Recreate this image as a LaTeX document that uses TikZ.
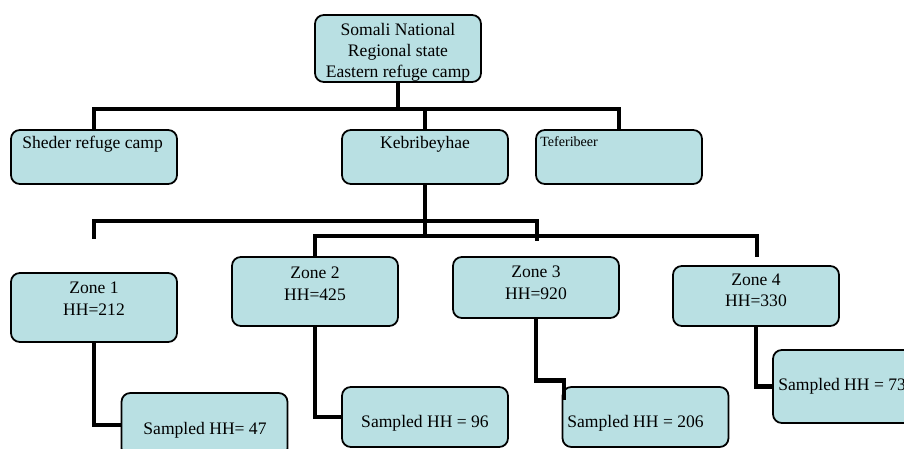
\documentclass[tikz,border=0pt]{standalone}
\usepackage{fontspec}
\setmainfont{Liberation Serif}
\usetikzlibrary{positioning}
\definecolor{cellblue}{RGB}{185,224,227}
\tikzset{
	cell/.style={draw, line width=1pt, rounded corners=5pt, fill=cellblue, inner sep=0pt, minimum width=3.32cm},
	txt/.style={font=\fontsize{10}{12}\selectfont, align=center, inner sep=0pt},
	link/.style={line width=2.8pt, line join=miter}
}

\begin{document}
\begin{tikzpicture}[x=0.02cm, y=-0.02cm]
	\useasboundingbox (0,0) rectangle (904,449);
	\clip (0,0) rectangle (904,449);
	% boxes
	\node[cell, minimum height=1.34cm] (top) at (398,48.5) {};
	\node[cell, minimum height=1.08cm] (sheder) at (94,157) {};
	\node[cell, minimum height=1.08cm] (keb) at (425,157) {};
	\node[cell, minimum height=1.08cm] (tef) at (619,157) {};
	\node[cell, minimum height=1.38cm] (z1) at (94,307.5) {};
	\node[cell, minimum height=1.38cm] (z2) at (315,291.5) {};
	\node[cell, minimum height=1.22cm] (z3) at (536,287.5) {};
	\node[cell, minimum height=1.2cm] (z4) at (756,296) {};
	\node[cell, minimum height=1.28cm] (s1) at (204.5,425) {};
	\node[cell, minimum height=1.2cm] (s2) at (425,417) {};
	\node[cell, minimum height=1.2cm] (s3) at (645.5,417) {};
	\node[cell, minimum height=1.46cm] (s4) at (856,386.5) {};
	% texts
	\node[txt, anchor=north] (ttop) at (398,23) {Somali National\\Regional state\\Eastern refuge camp};
	\node[txt, anchor=base west] (tsheder) at (22,149) {Sheder refuge camp};
	\node[txt, anchor=base] (tkeb) at (425,149) {Kebribeyhae};
	\node[txt, anchor=base west, font=\fontsize{8}{10}\selectfont] (ttef) at (540,147) {Teferibeer};
	\node[txt, anchor=north] (tz1) at (94,282) {Zone 1\\HH=212};
	\node[txt, anchor=north] (tz2) at (315,267) {Zone 2\\HH=425};
	\node[txt, anchor=north] (tz3) at (536,266) {Zone 3\\HH=920};
	\node[txt, anchor=north] (tz4) at (756,274) {Zone 4\\HH=330};
	\node[txt, anchor=base] (ts1) at (205,435) {Sampled HH= 47};
	\node[txt, anchor=base] (ts2) at (425,428) {Sampled HH = 96};
	\node[txt, anchor=base west] (ts3) at (567,428) {Sampled HH = 206};
	\node[txt, anchor=base west] (ts4) at (778,391) {Sampled HH = 73};
	% connectors
	\coordinate (j1) at (398,109);
	\coordinate (busA) at (425,221);
	\coordinate (busB) at (425,236);
	\coordinate (stub1) at (94,239);
	\coordinate (stub3) at (537,241);
	\coordinate (stub4) at (757,257);
	\coordinate (k3) at (564,400);
	\draw[link] (top.south) -- (j1);
	\draw[link] (sheder.north) -- (sheder.north |- j1) -- (tef.north |- j1) -- (tef.north);
	\draw[link] (keb.north) -- (keb.north |- j1);
	\draw[link] (keb.south) -- (busB);
	\draw[link] (stub1) -- (stub1 |- busA) -- (stub3 |- busA) -- (stub3);
	\draw[link] (z2.north) -- (z2.north |- busB) -- (stub4 |- busB) -- (stub4);
	\draw[link] (z1.south) |- (s1.west);
	\draw[link] (z2.south) |- (s2.west);
	\draw[link] (z3.south) -- ++(0,62) -| (k3);
	\draw[link] (z4.south) |- (s4.west);
\end{tikzpicture}
\end{document}
